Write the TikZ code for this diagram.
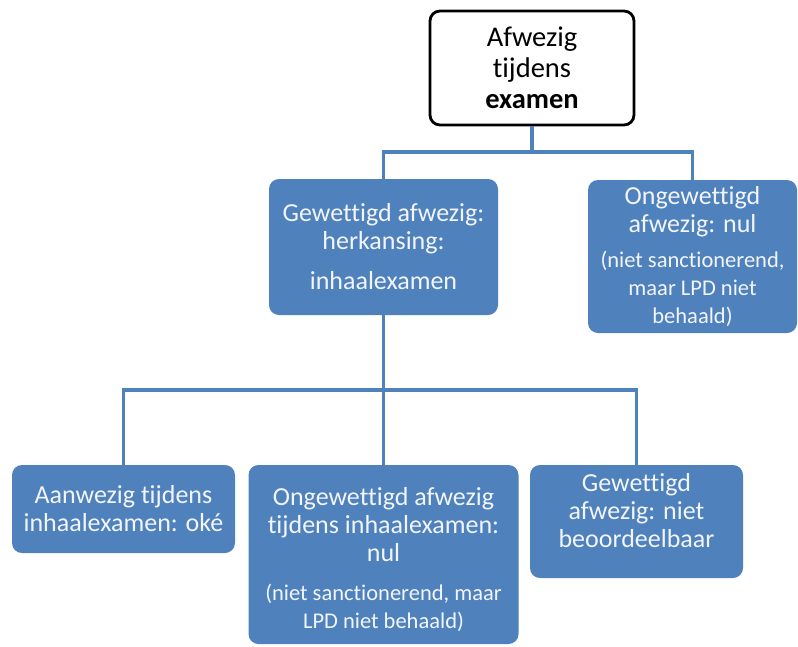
\documentclass[tikz,border=0pt]{standalone}
\usepackage{fontspec}
\setmainfont{Carlito}[Ligatures=NoCommon]
\usetikzlibrary{positioning}
\definecolor{boxblue}{RGB}{79,129,189}
\definecolor{boxtext}{RGB}{242,245,250}
\newcommand{\klein}{\fontsize{22.5}{25}\selectfont}

\begin{document}
\begin{tikzpicture}[x=1pt,y=-1pt,
  blok/.style={fill=boxblue, rounded corners=10pt, text=boxtext, align=center,
    inner sep=0pt, font=\fontsize{26}{28}\selectfont},
  topbox/.style={draw=black, line width=2.8pt, fill=white, rounded corners=10pt,
    align=center, inner sep=0pt, font=\fontsize{28.5}{31}\selectfont},
  lijn/.style={draw=boxblue, line width=3.5pt}]
\useasboundingbox (0,0) rectangle (798,646);
% top of the tree
\node[topbox, minimum width=204pt, minimum height=114pt] (afw) at (532,68) {Afwezig\\tijdens\\\textbf{examen}};
% second row
\node[blok, minimum width=229pt, minimum height=136pt] (gew) at (383.5,247) {Gewettigd afwezig:\\herkansing:\\[12pt]inhaalexamen};
\node[blok, minimum width=209pt, minimum height=153pt] (ongew) at (692.5,256.5) {Ongewettigd\\afwezig: nul\\[7pt]\klein (niet sanctionerend,\\\klein maar LPD niet\\\klein behaald)};
% third row
\node[blok, minimum width=223pt, minimum height=88pt] (aanw) at (123.5,509) {Aanwezig tijdens\\inhaalexamen: oké};
\node[blok, minimum width=270pt, minimum height=179pt] (ongew2) at (383.5,554.5) {\rule{0pt}{29pt}Ongewettigd afwezig\\tijdens inhaalexamen:\\nul\\[11pt]\klein (niet sanctionerend, maar\\\klein LPD niet behaald)};
\node[blok, minimum width=213pt, minimum height=113pt] (gew2) at (636.5,521.5) {Gewettigd\\afwezig: niet\\beoordeelbaar\\[-6pt]\mbox{}};
% connectors
\coordinate (j1) at (532,152);
\coordinate (j2) at (383.5,390);
\draw[lijn] (afw.south) -- (j1);
\draw[lijn] (gew.north) |- (j1) -| (ongew.north);
\draw[lijn] (gew.south) -- (j2);
\draw[lijn] (aanw.north) |- (j2) -| (gew2.north);
\draw[lijn] (ongew2.north) -- (j2);
\end{tikzpicture}
\end{document}
